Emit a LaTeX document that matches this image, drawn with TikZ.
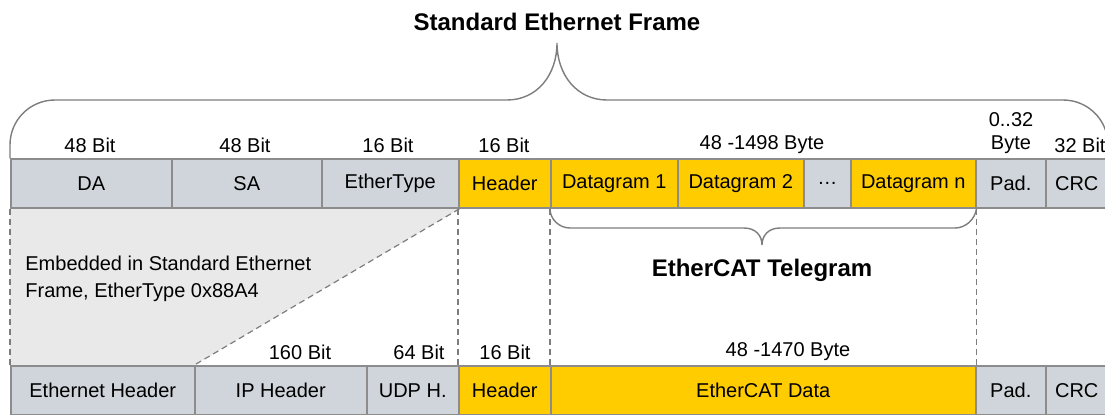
\documentclass[tikz,border=0pt]{standalone}
\usepackage{fontspec}
\setmainfont{Liberation Sans}
\usetikzlibrary{backgrounds}
\definecolor{cellgray}{RGB}{207,213,218}
\definecolor{ecatyellow}{RGB}{255,204,0}
\definecolor{cellline}{RGB}{140,140,140}
\definecolor{braceline}{RGB}{125,125,125}
\definecolor{shadegray}{RGB}{233,233,233}
\tikzset{
  cell/.style={rectangle, draw=cellline, line width=0.75pt, inner sep=0pt, minimum height=24.5pt, anchor=west, font=\fontsize{10}{12}\selectfont},
  gcell/.style={cell, fill=cellgray},
  ycell/.style={cell, fill=ecatyellow},
  lbl/.style={font=\fontsize{10}{11.5}\selectfont, inner sep=0pt},
  ttl/.style={font=\bfseries\fontsize{12}{14}\selectfont, inner sep=0pt},
  brc/.style={draw=braceline, line width=0.7pt},
  guide/.style={draw=braceline, line width=0.6pt, dash pattern=on 3pt off 2pt}
}

\begin{document}
\begin{tikzpicture}[x=0.5pt, y=-0.5pt]
    \useasboundingbox (0,0) rectangle (1105,414);

    % Standard Ethernet frame (top row)
    \node[gcell, minimum width=80.5pt] (da) at (10,183.5) {DA};
    \node[gcell, minimum width=75pt] (sa) at (171,183.5) {SA};
    \node[gcell, minimum width=68.5pt] (etype) at (321,183.5) {EtherType};
    \node[ycell, minimum width=46pt] (hdr) at (458,183.5) {Header};
    \node[ycell, minimum width=63.5pt] (dg1) at (550,183.5) {Datagram 1};
    \node[ycell, minimum width=63pt] (dg2) at (677,183.5) {Datagram 2};
    \node[gcell, minimum width=23.5pt] (dots) at (803,183.5) {\ldots};
    \node[ycell, minimum width=62.5pt] (dgn) at (850,183.5) {Datagram n};
    \node[gcell, minimum width=35pt] (pad) at (975,183.5) {Pad.};
    \node[gcell, minimum width=31pt] (crc) at (1045,183.5) {CRC};

    % UDP/IP frame (bottom row)
    \node[gcell, minimum width=92pt] (eth) at (10,390.5) {Ethernet Header};
    \node[gcell, minimum width=86pt] (ip) at (194,390.5) {IP Header};
    \node[gcell, minimum width=46pt] (udp) at (366,390.5) {UDP H.};
    \node[ycell, minimum width=46pt] (hdrb) at (458,390.5) {Header};
    \node[ycell, minimum width=212.5pt] (data) at (550,390.5) {EtherCAT Data};
    \node[gcell, minimum width=35pt] (padb) at (975,390.5) {Pad.};
    \node[gcell, minimum width=31pt] (crcb) at (1045,390.5) {CRC};

    % Field sizes
    \node[lbl] (sda) at (90,145) {48 Bit};
    \node[lbl] (ssa) at (245,145) {48 Bit};
    \node[lbl] (set) at (388,145) {16 Bit};
    \node[lbl] (shdr) at (504,145) {16 Bit};
    \node[lbl] (sdg) at (762,145) {48 -1498 Byte};
    \node[lbl, align=center] (spad) at (1011,133.5) {0..32\\Byte};
    \node[lbl] (scrc) at (1080,145) {32 Bit};
    \node[lbl] (sip) at (300,352) {160 Bit};
    \node[lbl] (sudp) at (419,352) {64 Bit};
    \node[lbl] (shdrb) at (505,352) {16 Bit};
    \node[lbl] (sdata) at (788,352) {48 -1470 Byte};

    % Titles
    \node[ttl] (ftitle) at (557,22) {Standard Ethernet Frame};
    \node[ttl] (ttitle) at (762,270) {EtherCAT Telegram};
    \node[lbl, anchor=west, align=left, font=\fontsize{10}{13.5}\selectfont] (embed) at (25,278.5) {Embedded in Standard Ethernet\\Frame, EtherType 0x88A4};

    % Brace tips
    \coordinate (ftip) at (557,43);
    \coordinate (ttip) at (762,245);

    % Brace over the whole frame
    \draw[brc] (da.north west) -- (10,145) .. controls (10,120) and (30,100) .. (55,100)
        -- (507,100) .. controls (537,100) and (557,75) .. (ftip)
        .. controls (557,75) and (577,100) .. (607,100)
        -- (1063,100) .. controls (1088,100) and (1108,120) .. (1108,145) -- (crc.north east);

    % Brace under the datagrams
    \draw[brc] (dg1.south west) .. controls (550,219) and (559,228) .. (570,228)
        -- (744,228) .. controls (756,228) and (762,236) .. (ttip)
        .. controls (762,236) and (768,228) .. (780,228)
        -- (955,228) .. controls (966,228) and (975,219) .. (dgn.south east);

    % Embedding guides
    \begin{scope}[on background layer]
        \fill[shadegray] (da.south west) -- (etype.south east) -- (ip.north west) -- (eth.north west) -- cycle;
    \end{scope}
    \draw[guide] (da.south west) -- (eth.north west);
    \draw[guide] (etype.south east) -- (ip.north west);
    \draw[guide] (hdr.south west) -- (hdrb.north west);
    \draw[guide] (dg1.south west) -- (data.north west);
    \draw[guide] (dgn.south east) -- (data.north east);
\end{tikzpicture}
\end{document}
